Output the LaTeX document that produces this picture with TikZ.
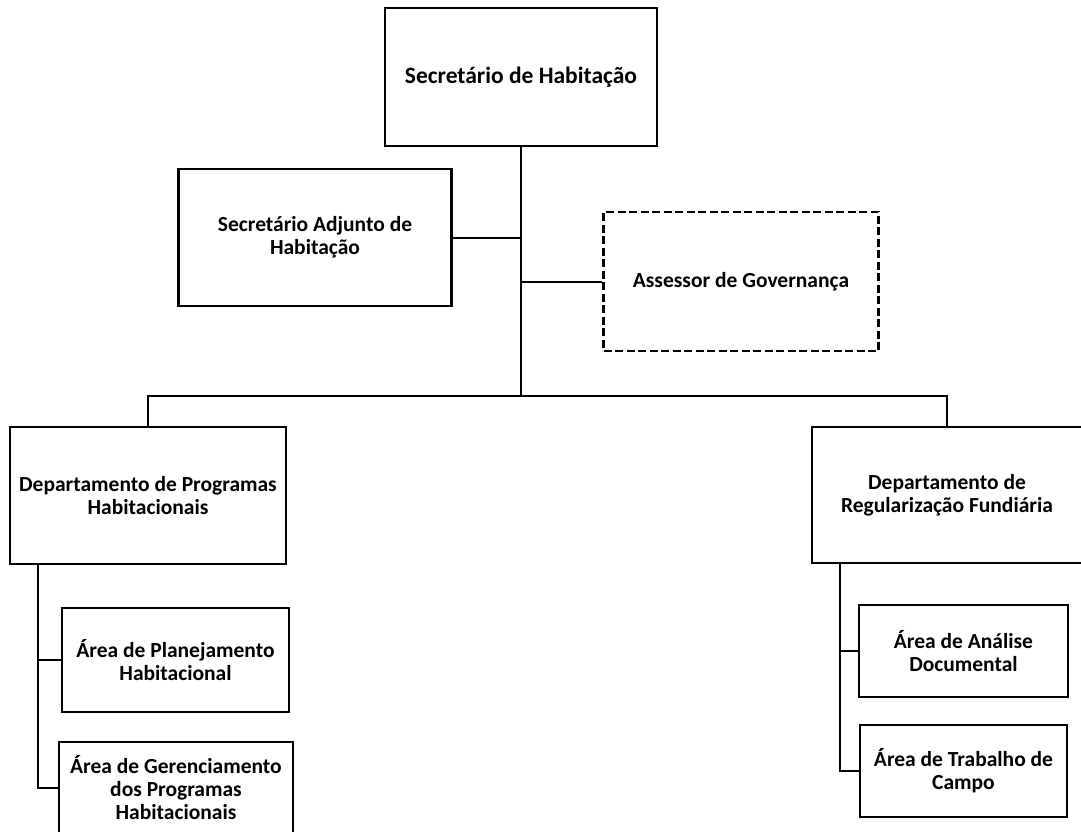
\documentclass[tikz,border=0pt]{standalone}
\usepackage{fontspec}
\setmainfont{Carlito}
\newfontfamily\orgfont{Carlito Bold}
\begin{document}
\begin{tikzpicture}[x=1bp,y=-1bp,
  unit/.style={draw=black, line width=2.6bp, fill=white, align=center,
    inner sep=0pt, font=\orgfont\fontsize{21.5bp}{23bp}\selectfont},
  headunit/.style={unit, font=\orgfont\fontsize{23.5bp}{26bp}\selectfont},
  advisory/.style={unit, line width=2.6bp, dash pattern=on 8bp off 3.5bp},
  link/.style={draw=black, line width=2bp}]
\useasboundingbox (0,0) rectangle (1081,832);

% head of the secretariat
\node[headunit, minimum width=272bp, minimum height=138bp] (sec) at (521,77) {Secretário de Habitação};

% staff positions beside the trunk
\node[unit, minimum width=273bp, minimum height=137bp] (adj) at (315,237.5) {Secretário Adjunto de\\Habitação};
\node[advisory, minimum width=275bp, minimum height=139bp] (ass) at (741,281.5) {Assessor de Governança};

% departments
\node[unit, minimum width=276bp, minimum height=137bp] (dph) at (148,495.5) {Departamento de Programas\\Habitacionais};
\node[unit, minimum width=270bp, minimum height=136bp] (drf) at (947,495) {Departamento de\\Regularização Fundiária};

% areas of the housing programmes department
\node[unit, minimum width=227bp, minimum height=104bp] (apl) at (175.5,660) {Área de Planejamento\\Habitacional};
\node[unit, minimum width=234bp, minimum height=92bp] (age) at (176,788) {Área de Gerenciamento\\dos Programas\\Habitacionais};

% areas of the land regularisation department
\node[unit, minimum width=209bp, minimum height=92bp] (aad) at (963.5,651) {Área de Análise\\Documental};
\node[unit, minimum width=207bp, minimum height=92bp] (atc) at (963.5,771) {Área de Trabalho de\\Campo};

% trunk and bus
\coordinate (bus) at (521,396);
\coordinate (ltrunk) at (38,564);
\coordinate (rtrunk) at (840,563);
\draw[link] (sec.south) -- (bus);
\draw[link] (adj.east) -- (adj.east -| sec.south);
\draw[link] (ass.west) -- (ass.west -| sec.south);
\draw[link] (dph.north) |- (bus) -| (drf.north);

% branches to the areas
\draw[link] (dph.south -| ltrunk) |- (age.west);
\draw[link] (apl.west) -- (apl.west -| ltrunk);
\draw[link] (drf.south -| rtrunk) |- (atc.west);
\draw[link] (aad.west) -- (aad.west -| rtrunk);
\end{tikzpicture}
\end{document}
